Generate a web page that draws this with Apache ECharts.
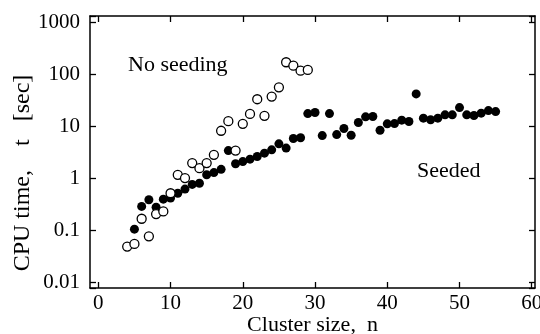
<!DOCTYPE html>
<html>
<head>
<meta charset="utf-8">
<script src="https://cdn.jsdelivr.net/npm/echarts@6/dist/echarts.min.js"></script>
<style>
  html, body { margin: 0; padding: 0; background: #fff; }
  #chart { width: 540px; height: 334px; }
</style>
</head>
<body>
<div id="chart"></div>
<script>
// Cluster size n and CPU time t [sec]
const noSeedN = [4, 5, 6, 7, 8, 9, 10, 11, 12, 13, 14, 15, 16, 17, 18, 19, 20,
  21, 22, 23, 24, 25, 26, 27, 28, 29];
const noSeedT = [0.049, 0.055, 0.168, 0.077, 0.207, 0.232, 0.52, 1.18, 1.02, 1.98,
  1.58, 1.98, 2.86, 8.3, 12.7, 3.45, 11.3, 17.5, 33.6, 16.1, 37.8, 57, 173, 149,
  119, 123];

const seededN = [5, 6, 7, 8, 9, 10, 11, 12, 13, 14, 15, 16, 17, 18, 19, 20, 21,
  22, 23, 24, 25, 26, 27, 28, 29, 30, 31, 32, 33, 34, 35, 36, 37, 38, 39, 40, 41,
  42, 43, 44, 45, 46, 47, 48, 49, 50, 51, 52, 53, 54, 55];
const seededT = [0.106, 0.29, 0.39, 0.28, 0.40, 0.42, 0.52, 0.625, 0.77, 0.81,
  1.18, 1.30, 1.50, 3.45, 1.92, 2.12, 2.36, 2.65, 3.08, 3.56, 4.65, 3.85, 5.9,
  6.1, 17.8, 18.7, 6.7, 17.8, 7.0, 9.2, 6.8, 12.0, 15.4, 15.6, 8.5, 11.3, 11.4,
  13.3, 12.5, 42.6, 14.5, 13.5, 14.5, 16.8, 16.8, 23.2, 16.8, 16.3, 18.1, 20.3,
  19.4];

const xTicks = [0, 10, 20, 30, 40, 50, 60];

const font = '"Liberation Serif", "Times New Roman", serif';

const isDecade = v => Math.abs(Math.log10(v) - Math.round(Math.log10(v))) < 1e-6;
const fmtLog = v => {
  if (!isDecade(v)) return '';
  const p = Math.round(Math.log10(v));
  return p >= 0 ? String(Math.round(v)) : v.toFixed(-p);
};

const chart = echarts.init(document.getElementById('chart'), null, { renderer: 'canvas' });

const line = { show: true, onZero: false, lineStyle: { color: '#000', width: 1.5 } };
const tick = { show: true, inside: true, length: 6, lineStyle: { color: '#000', width: 1.3 } };

chart.setOption({
  animation: false,
  backgroundColor: '#fff',
  grid: { left: 90, right: 5, top: 16, bottom: 46, containLabel: false, outerBoundsMode: 'none' },
  xAxis: [
    {
      type: 'value', min: -1.15, max: 60.45, position: 'bottom',
      axisLine: line,
      axisTick: Object.assign({ customValues: xTicks }, tick),
      axisLabel: { customValues: xTicks, color: '#000', fontFamily: font, fontSize: 21, margin: 5 },
      splitLine: { show: false },
      name: 'Cluster size,  n', nameLocation: 'middle', nameGap: 26, nameMoveOverlap: false,
      nameTextStyle: { color: '#000', fontFamily: font, fontSize: 22 }
    },
    {
      type: 'value', min: -1.15, max: 60.45, position: 'top',
      axisLine: line,
      axisTick: Object.assign({ customValues: xTicks }, tick),
      axisLabel: { show: false },
      splitLine: { show: false }
    }
  ],
  yAxis: [
    {
      type: 'log', min: 0.0078, max: 1345, position: 'left',
      axisLine: line, axisTick: tick,
      axisLabel: { formatter: fmtLog, color: '#000', fontFamily: font, fontSize: 21, margin: 10 },
      splitLine: { show: false },
      name: 'CPU time,    t   [sec]', nameLocation: 'middle', nameGap: 55, nameMoveOverlap: false,
      nameTextStyle: { color: '#000', fontFamily: font, fontSize: 24, padding: [0, 42, 0, 0] }
    },
    {
      type: 'log', min: 0.0078, max: 1345, position: 'right',
      axisLine: line, axisTick: tick,
      axisLabel: { show: false },
      splitLine: { show: false }
    }
  ],
  graphic: [
    { type: 'text', left: 128, top: 54,
      style: { text: 'No seeding', fill: '#000', font: '22px ' + font } },
    { type: 'text', left: 417, top: 160,
      style: { text: 'Seeded', fill: '#000', font: '22px ' + font } }
  ],
  series: [
    {
      name: 'Seeded', type: 'scatter', symbol: 'circle', symbolSize: 9,
      itemStyle: { color: '#000', opacity: 1 },
      data: seededN.map((n, i) => [n, seededT[i]])
    },
    {
      name: 'No seeding', type: 'scatter', symbol: 'circle', symbolSize: 9,
      itemStyle: { color: '#fff', borderColor: '#000', borderWidth: 1.3, opacity: 1 },
      data: noSeedN.map((n, i) => [n, noSeedT[i]])
    }
  ]
});
</script>
</body>
</html>
